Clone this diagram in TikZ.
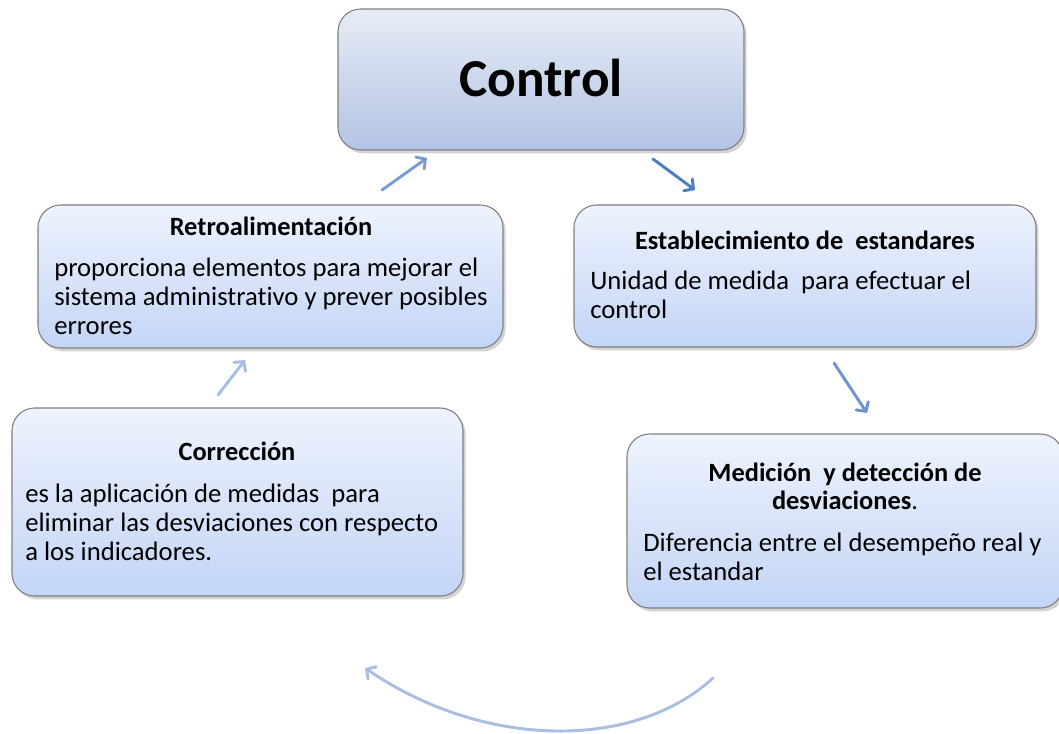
\documentclass[tikz,border=0pt]{standalone}
\usepackage{fontspec}
\setmainfont{Carlito}[Ligatures=NoCommon]
\usetikzlibrary{arrows.meta,shadows}
\definecolor{edgegray}{HTML}{7F7F7F}
\definecolor{ctop}{HTML}{E7ECF6}
\definecolor{cbot}{HTML}{B2C3E3}
\definecolor{btop}{HTML}{EEF3FD}
\definecolor{bbot}{HTML}{C3D5F6}
\definecolor{arA}{HTML}{7B9CD2}
\definecolor{arB}{HTML}{4D7EC0}
\definecolor{arC}{HTML}{6E93CF}
\definecolor{arD}{HTML}{A6BDE3}
\definecolor{arE}{HTML}{A9BEE2}
\newcommand\mylines[2][l]{\begin{tabular}[t]{@{}#1@{}}#2\end{tabular}}
\tikzset{
  boxbase/.style={draw=edgegray, line width=0.8pt, rounded corners=17pt,
    drop shadow={opacity=0.35, shadow xshift=2pt, shadow yshift=-2.5pt}},
  ctrlbox/.style={boxbase, top color=ctop, bottom color=cbot},
  stepbox/.style={boxbase, top color=btop, bottom color=bbot},
  headtxt/.style={inner sep=0pt, anchor=base, font=\fontsize{19.8}{21}\selectfont\bfseries},
  bodytxt/.style={inner sep=0pt, anchor=base west, font=\fontsize{20}{21.75}\selectfont},
  arr/.style={line width=2.2pt, line cap=round, -{Straight Barb[length=5pt,width=11pt,line cap=round]}}
}
\begin{document}
\begin{tikzpicture}[x=0.75pt,y=-0.75pt]
\useasboundingbox (0,0) rectangle (1059,733);
% boxes
\node[ctrlbox, minimum width=406*0.75pt, minimum height=141*0.75pt] (ctrl) at (541,79.5) {};
\node[stepbox, minimum width=465*0.75pt, minimum height=143*0.75pt] (retro) at (270.5,276.5) {};
\node[stepbox, minimum width=462*0.75pt, minimum height=142*0.75pt] (estab) at (805,276) {};
\node[stepbox, minimum width=451*0.75pt, minimum height=188*0.75pt] (corr) at (237.5,502) {};
\node[stepbox, minimum width=436*0.75pt, minimum height=174*0.75pt] (med) at (845,521) {};
% texts
\node[inner sep=0pt, font=\fontsize{40}{48}\selectfont\bfseries] (ctrlt) at (541,78) {Control};
\node[headtxt] (retroh) at (271,235) {Retroalimentación};
\node[bodytxt] (retrob) at (54,276) {\mylines{proporciona elementos para mejorar el\\sistema administrativo y prever posibles\\errores}};
\node[headtxt] (estabh) at (805,249) {Establecimiento de\ \ estandares};
\node[bodytxt] (estabb) at (590,289) {\mylines{Unidad de medida\ \ para efectuar el\\control}};
\node[headtxt] (corrh) at (237,460) {Corrección};
\node[bodytxt] (corrb) at (25,502) {\mylines{es la aplicación de medidas\ \ para\\eliminar las desviaciones con respecto\\a los indicadores.}};
\node[headtxt] (medh) at (845,481) {\mylines[c]{Medición\ \ y detección de\\desviaciones{\mdseries.}}};
\node[bodytxt] (medb) at (643,551) {\mylines{Diferencia entre el desempeño real y\\el estandar}};
% arrow end points
\coordinate (a1s) at (382,190); \coordinate (a1e) at (427,158);
\coordinate (a2s) at (653,159); \coordinate (a2e) at (695,190);
\coordinate (a3s) at (834,363); \coordinate (a3e) at (867,413);
\coordinate (a4s) at (218,395); \coordinate (a4e) at (245,360);
\coordinate (a5s) at (713,678); \coordinate (a5e) at (365,668);
\coordinate (a3c) at (849,386);
\coordinate (a5c1) at (635,750); \coordinate (a5c2) at (485,750);
% arrows
\draw[arr, draw=arA] (a1s) -- (a1e);
\draw[arr, draw=arB] (a2s) -- (a2e);
\draw[arr, draw=arC] (a3s) .. controls (a3c) .. (a3e);
\draw[arr, draw=arD] (a4s) -- (a4e);
\draw[arr, draw=arE] (a5s) .. controls (a5c1) and (a5c2) .. (a5e);
\end{tikzpicture}
\end{document}
